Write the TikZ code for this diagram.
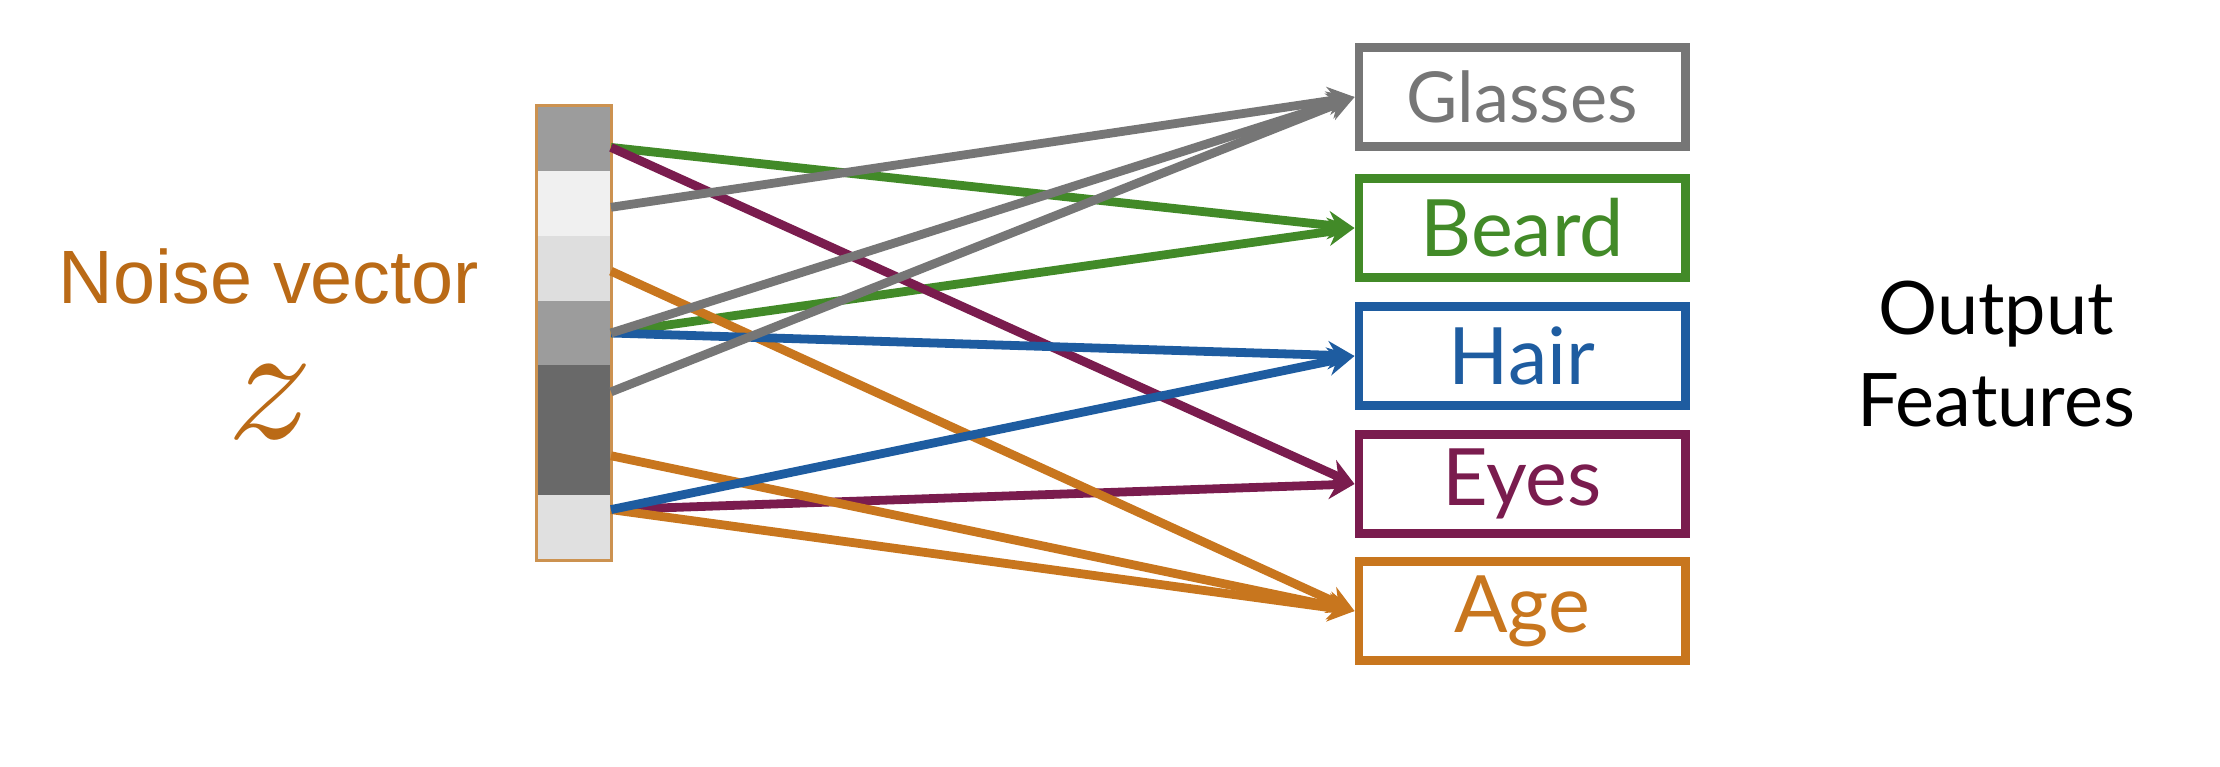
\documentclass[tikz,border=0pt]{standalone}
\usepackage{fontspec}
\usepackage{unicode-math}
\setmainfont{Lato}
\newfontfamily\noisefont{Liberation Sans}
\usetikzlibrary{arrows.meta}

\definecolor{glassgray}{RGB}{118,118,118}
\definecolor{beardgreen}{RGB}{66,138,40}
\definecolor{hairblue}{RGB}{30,92,160}
\definecolor{eyespurple}{RGB}{122,28,78}
\definecolor{ageorange}{RGB}{200,118,30}
\definecolor{noiseorange}{RGB}{186,106,22}
\definecolor{vectorborder}{RGB}{204,146,80}

\tikzstyle{cell} = [draw=none,minimum width=0.74cm,minimum height=0.6486cm,inner sep=0pt]
\tikzstyle{featurebox} = [draw,line width=2.5pt,minimum width=3.26cm,minimum height=0.99cm,inner sep=0pt,font=\fontsize{22.5}{26}\selectfont]
\tikzstyle{arrowdecorate} = [->,>={Stealth[length=7.5pt,width=8pt]},line width=2.5pt]
\tikzstyle{noiselabel} = [text=noiseorange,font=\noisefont\fontsize{21.5}{26}\selectfont]

\begin{document}
\begin{tikzpicture}[x=0.01cm,y=-0.01cm]
    \useasboundingbox[fill=white] (0,0) rectangle (2220,766);

    % noise vector cells
    \foreach \i/\dark/\dy in {
      1/39/9, 2/6/4, 3/13/3, 4/39/0, 5/59/-6, 6/59/-7, 7/12/-18}
    {
      \node[cell, fill=black!\dark] (c\i) at (574,{106+64.86*(\i-0.5)}) {};
      \coordinate (o\i) at (611,{106+64.86*(\i-0.5)+\dy});
    }
    \draw[vectorborder, line width=0.9pt] (c1.north west) rectangle (c7.south east);

    \node[noiselabel] (noise) at (269,276) {Noise vector};
    \node[text=noiseorange, font=\fontsize{48}{52}\selectfont] (zvar) at (269,402) {$\mathscr{z}$};

    % output features
    \foreach \nodename/\featname/\y/\col/\fs in {
      glasses/Glasses/97/glassgray/20,
      beard/Beard/228/beardgreen/22.5,
      hair/Hair/356/hairblue/22.5,
      eyes/Eyes/484/eyespurple/22.5,
      age/Age/611/ageorange/22.5}
    {
      \node[featurebox, draw=\col, text=\col, font=\fontsize{\fs}{26}\selectfont] (\nodename) at (1522,\y) {\featname};
    }

    \node[align=center, font=\fontsize{21}{26}\selectfont] (output) at (1996,354) {Output\\Features};

    %edges
    \path
    \foreach \startnode/\endnode/\col in {
      o1/beard/beardgreen, o4/beard/beardgreen,
      o1/eyes/eyespurple, o7/eyes/eyespurple,
      o3/age/ageorange, o6/age/ageorange, o7/age/ageorange,
      o4/hair/hairblue, o7/hair/hairblue,
      o2/glasses/glassgray, o4/glasses/glassgray, o5/glasses/glassgray}
    {
      (\startnode) edge[arrowdecorate, draw=\col] (\endnode.west)
    };
  \end{tikzpicture}
\end{document}
